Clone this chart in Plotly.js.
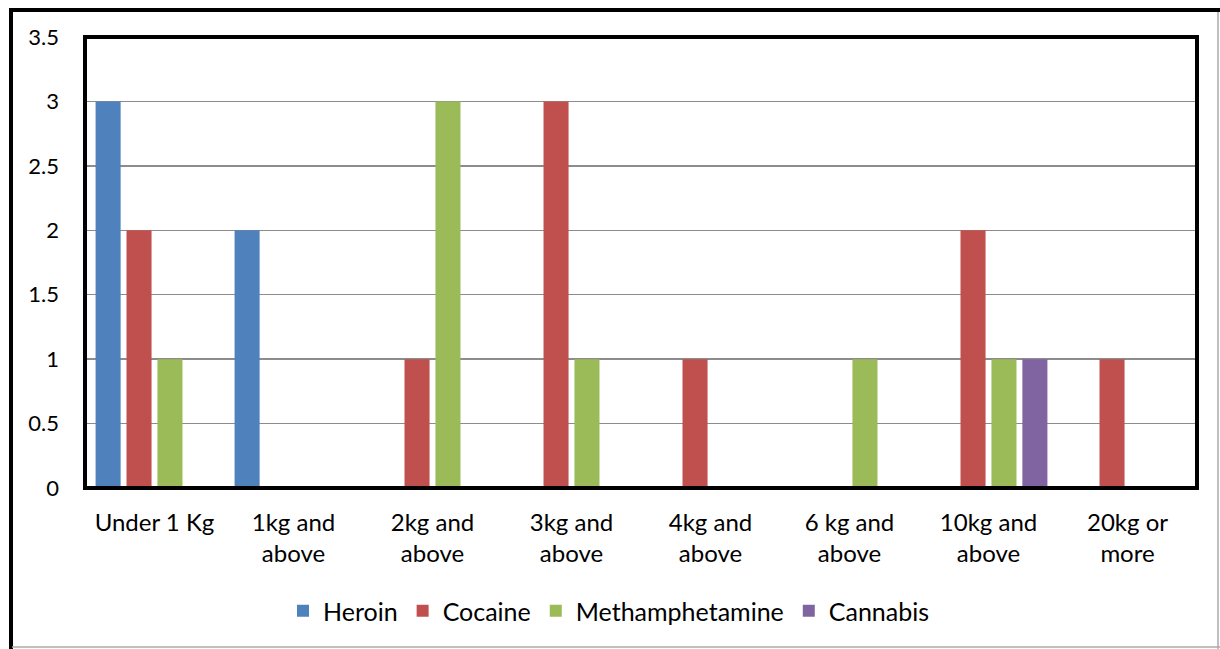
<!DOCTYPE html>
<html><head><meta charset="utf-8">
<script src="https://cdn.plot.ly/plotly-3.0.1.min.js"></script>
<style>body{margin:0;background:#fff}#chart{width:1220px;height:649px}</style>
</head><body><div id="chart"></div>
<script>
const categories = ["Under 1 Kg", "1kg and<br>above", "2kg and<br>above", "3kg and<br>above", "4kg and<br>above", "6 kg and<br>above", "10kg and<br>above", "20kg or<br>more"];
const heroin = [3, 2, 0, 0, 0, 0, 0, 0];
const cocaine = [2, 0, 1, 3, 1, 0, 2, 1];
const meth = [1, 0, 3, 1, 0, 1, 1, 0];
const cannabis = [0, 0, 0, 0, 0, 0, 1, 0];
const yTicks = [0, 0.5, 1, 1.5, 2, 2.5, 3, 3.5];
const yTickLabels = ["0", "0.5", "1", "1.5", "2", "2.5", "3", "3.5"];

const fam = "Lato, 'Open Sans', sans-serif";
function tr(name, y, color) {
  return {type: "bar", name: name, x: categories, y: y, marker: {color: color, line: {width: 0}}};
}
const data = [
  tr("Heroin", heroin, "#4F81BD"),
  tr("Cocaine", cocaine, "#C0504D"),
  tr("Methamphetamine", meth, "#9BBB59"),
  tr("Cannabis", cannabis, "#8064A2")
];
const L = 85, R = 1197, T = 37, B = 488, W = 1220, H = 649;
const px = v => (v - L) / (R - L);
const py = v => (B - v) / (B - T);
const layout = {
  width: W, height: H,
  margin: {l: L, r: W - R, t: T, b: H - B},
  paper_bgcolor: "#fff", plot_bgcolor: "#fff",
  font: {family: fam, size: 21, color: "#000"},
  barmode: "group", bargap: 0.11, bargroupgap: 0.19,
  showlegend: true,
  legend: {orientation: "h", x: px(283), xanchor: "left", y: py(611), yanchor: "middle",
           font: {family: fam, size: 25, color: "#000"}, itemwidth: 30, tracegroupgap: 0},
  xaxis: {type: "category", showgrid: false, ticks: "", tickfont: {family: fam, size: 24, color: "#000"},
          ticklabelstandoff: 18, showline: false, zeroline: false},
  yaxis: {range: [0, 3.5], tickvals: yTicks, ticktext: yTickLabels, showgrid: true, gridcolor: "#8c8c8c",
          gridwidth: 1.5, zeroline: false, ticks: "", ticklabelstandoff: 25,
          tickfont: {family: fam, size: 22, color: "#000"}, showline: false},
  shapes: [
    {type: "rect", xref: "paper", yref: "paper", x0: 0, x1: 1, y0: 0, y1: 1, line: {color: "#000", width: 4}, layer: "above"},
    {type: "line", xref: "paper", yref: "paper", x0: px(11), x1: px(11), y0: py(9), y1: py(649), line: {color: "#000", width: 4}},
    {type: "line", xref: "paper", yref: "paper", x0: px(9), x1: px(1220), y0: py(10), y1: py(10), line: {color: "#000", width: 4}},
    {type: "line", xref: "paper", yref: "paper", x0: px(1218), x1: px(1218), y0: py(12), y1: py(649), line: {color: "#aaa", width: 1.5}},
    {type: "line", xref: "paper", yref: "paper", x0: px(12), x1: px(1220), y0: py(647), y1: py(647), line: {color: "#aaa", width: 1.5}}
  ]
};
Plotly.newPlot("chart", data, layout, {displayModeBar: false, staticPlot: true});
</script></body></html>
